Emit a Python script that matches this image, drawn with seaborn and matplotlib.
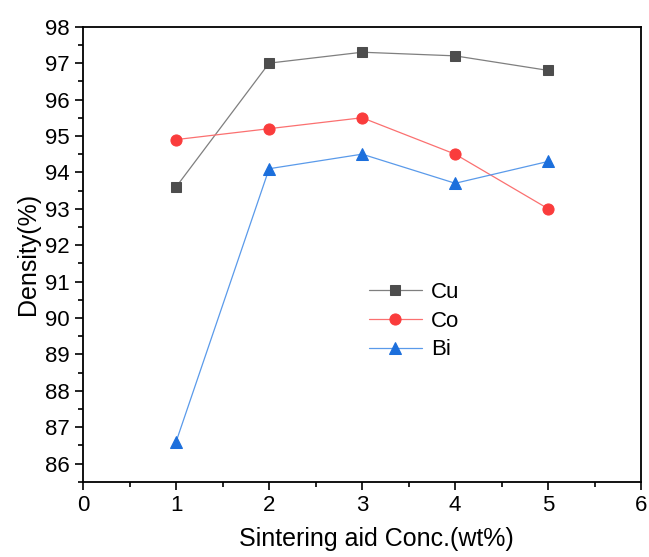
import matplotlib
matplotlib.use('Agg')
import matplotlib.pyplot as plt
import seaborn as sns
import pandas as pd
from matplotlib.ticker import MultipleLocator

# sintering aid concentration (wt%)
conc = [1, 2, 3, 4, 5]
cu = [93.6, 97.0, 97.3, 97.2, 96.8]
co = [94.9, 95.2, 95.5, 94.5, 93.0]
bi = [86.6, 94.1, 94.5, 93.7, 94.3]

sns.set_style('ticks')
plt.rcParams['font.family'] = ['Liberation Sans', 'DejaVu Sans']
plt.rcParams['text.color'] = 'black'
plt.rcParams['axes.labelcolor'] = 'black'
plt.rcParams['xtick.color'] = 'black'
plt.rcParams['ytick.color'] = 'black'
plt.rcParams['axes.edgecolor'] = 'black'

df = pd.DataFrame({'conc': conc * 3,
                   'density': cu + co + bi,
                   'aid': ['Cu'] * 5 + ['Co'] * 5 + ['Bi'] * 5})

fig = plt.figure(figsize=(6.49, 5.57), dpi=100)
ax = fig.add_axes([0.128, 0.135, 0.86, 0.817])

styles = {'Cu': ('#4d4d4d', '#7f7f7f', 's', 7),
          'Co': ('#fa3c3c', '#fb7070', 'o', 8),
          'Bi': ('#1c6fdc', '#5a9aea', '^', 9)}
for name in ['Cu', 'Co', 'Bi']:
    mc, lc, mk, ms = styles[name]
    sub = df[df.aid == name]
    sns.lineplot(data=sub, x='conc', y='density', ax=ax, color=lc, lw=0.9,
                 marker=mk, markersize=ms, markerfacecolor=mc,
                 markeredgecolor=mc, label=name)

ax.set_xlim(0, 6)
ax.set_ylim(85.5, 98)
ax.xaxis.set_major_locator(MultipleLocator(1))
ax.xaxis.set_minor_locator(MultipleLocator(0.5))
ax.yaxis.set_major_locator(MultipleLocator(1))
ax.yaxis.set_minor_locator(MultipleLocator(0.5))
ax.tick_params(which='major', length=6, width=1.2, labelsize=16, direction='out')
ax.tick_params(which='minor', length=3.5, width=1.2, direction='out')
for s in ax.spines.values():
    s.set_linewidth(1.3)
ax.set_xlabel('Sintering aid Conc.(wt%)', fontsize=18)
ax.xaxis.set_label_coords(0.525, -0.1)
ax.set_ylabel('Density(%)', fontsize=18, labelpad=4)

ax.legend(loc='center', bbox_to_anchor=(0.593, 0.353), frameon=False,
          fontsize=16, handlelength=2.4, handletextpad=0.4, labelspacing=0.35)

fig.savefig('out.png', dpi=100)
